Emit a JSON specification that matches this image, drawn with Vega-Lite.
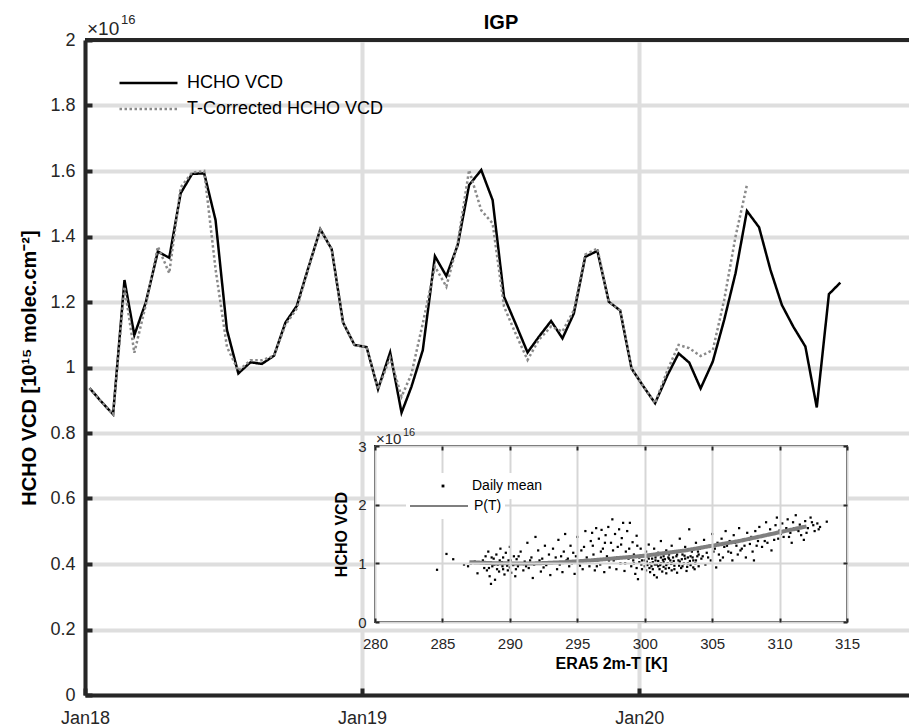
{
  "$schema": "https://vega.github.io/schema/vega-lite/v6.json",
  "width": 824,
  "height": 655,
  "autosize": {"type": "none"},
  "padding": {"left": 85, "top": 40, "right": 0, "bottom": 33},
  "background": "white",
  "config": {"font": "Liberation Sans", "view": {"stroke": null}},
  "title": {"text": "IGP", "fontSize": 20, "fontWeight": "bold", "anchor": "middle", "frame": "group", "offset": 7, "dx": 4, "dy": 26, "color": "#000000"},
  "datasets": {
    "main": [
      {"date": "2018-01-07", "HCHO VCD": 0.937, "T-Corrected HCHO VCD": 0.937},
      {"date": "2018-01-22", "HCHO VCD": 0.897, "T-Corrected HCHO VCD": 0.897},
      {"date": "2018-02-07", "HCHO VCD": 0.857, "T-Corrected HCHO VCD": 0.857},
      {"date": "2018-02-22", "HCHO VCD": 1.267, "T-Corrected HCHO VCD": 1.247},
      {"date": "2018-03-07", "HCHO VCD": 1.099, "T-Corrected HCHO VCD": 1.045},
      {"date": "2018-03-22", "HCHO VCD": 1.198, "T-Corrected HCHO VCD": 1.19},
      {"date": "2018-04-07", "HCHO VCD": 1.354, "T-Corrected HCHO VCD": 1.369},
      {"date": "2018-04-22", "HCHO VCD": 1.335, "T-Corrected HCHO VCD": 1.288},
      {"date": "2018-05-07", "HCHO VCD": 1.532, "T-Corrected HCHO VCD": 1.55},
      {"date": "2018-05-22", "HCHO VCD": 1.591, "T-Corrected HCHO VCD": 1.595},
      {"date": "2018-06-07", "HCHO VCD": 1.593, "T-Corrected HCHO VCD": 1.6},
      {"date": "2018-06-22", "HCHO VCD": 1.45, "T-Corrected HCHO VCD": 1.3},
      {"date": "2018-07-07", "HCHO VCD": 1.115, "T-Corrected HCHO VCD": 1.063},
      {"date": "2018-07-22", "HCHO VCD": 0.982, "T-Corrected HCHO VCD": 0.99},
      {"date": "2018-08-07", "HCHO VCD": 1.016, "T-Corrected HCHO VCD": 1.022},
      {"date": "2018-08-22", "HCHO VCD": 1.011, "T-Corrected HCHO VCD": 1.022},
      {"date": "2018-09-07", "HCHO VCD": 1.036, "T-Corrected HCHO VCD": 1.036},
      {"date": "2018-09-22", "HCHO VCD": 1.137, "T-Corrected HCHO VCD": 1.13},
      {"date": "2018-10-07", "HCHO VCD": 1.188, "T-Corrected HCHO VCD": 1.18},
      {"date": "2018-10-22", "HCHO VCD": 1.303, "T-Corrected HCHO VCD": 1.3},
      {"date": "2018-11-07", "HCHO VCD": 1.422, "T-Corrected HCHO VCD": 1.422},
      {"date": "2018-11-22", "HCHO VCD": 1.361, "T-Corrected HCHO VCD": 1.361},
      {"date": "2018-12-07", "HCHO VCD": 1.137, "T-Corrected HCHO VCD": 1.137},
      {"date": "2018-12-22", "HCHO VCD": 1.069, "T-Corrected HCHO VCD": 1.069},
      {"date": "2019-01-07", "HCHO VCD": 1.062, "T-Corrected HCHO VCD": 1.062},
      {"date": "2019-01-22", "HCHO VCD": 0.934, "T-Corrected HCHO VCD": 0.934},
      {"date": "2019-02-07", "HCHO VCD": 1.046, "T-Corrected HCHO VCD": 1.03},
      {"date": "2019-02-22", "HCHO VCD": 0.862, "T-Corrected HCHO VCD": 0.911},
      {"date": "2019-03-07", "HCHO VCD": 0.941, "T-Corrected HCHO VCD": 0.98},
      {"date": "2019-03-22", "HCHO VCD": 1.053, "T-Corrected HCHO VCD": 1.135},
      {"date": "2019-04-07", "HCHO VCD": 1.34, "T-Corrected HCHO VCD": 1.308},
      {"date": "2019-04-22", "HCHO VCD": 1.279, "T-Corrected HCHO VCD": 1.247},
      {"date": "2019-05-07", "HCHO VCD": 1.374, "T-Corrected HCHO VCD": 1.38},
      {"date": "2019-05-22", "HCHO VCD": 1.557, "T-Corrected HCHO VCD": 1.603},
      {"date": "2019-06-07", "HCHO VCD": 1.603, "T-Corrected HCHO VCD": 1.48},
      {"date": "2019-06-22", "HCHO VCD": 1.511, "T-Corrected HCHO VCD": 1.44},
      {"date": "2019-07-07", "HCHO VCD": 1.216, "T-Corrected HCHO VCD": 1.186},
      {"date": "2019-07-22", "HCHO VCD": 1.135, "T-Corrected HCHO VCD": 1.105},
      {"date": "2019-08-07", "HCHO VCD": 1.046, "T-Corrected HCHO VCD": 1.023},
      {"date": "2019-08-22", "HCHO VCD": 1.094, "T-Corrected HCHO VCD": 1.085},
      {"date": "2019-09-07", "HCHO VCD": 1.142, "T-Corrected HCHO VCD": 1.125},
      {"date": "2019-09-22", "HCHO VCD": 1.089, "T-Corrected HCHO VCD": 1.11},
      {"date": "2019-10-07", "HCHO VCD": 1.165, "T-Corrected HCHO VCD": 1.175},
      {"date": "2019-10-22", "HCHO VCD": 1.338, "T-Corrected HCHO VCD": 1.345},
      {"date": "2019-11-07", "HCHO VCD": 1.356, "T-Corrected HCHO VCD": 1.363},
      {"date": "2019-11-22", "HCHO VCD": 1.201, "T-Corrected HCHO VCD": 1.201},
      {"date": "2019-12-07", "HCHO VCD": 1.174, "T-Corrected HCHO VCD": 1.174},
      {"date": "2019-12-22", "HCHO VCD": 0.997, "T-Corrected HCHO VCD": 0.997},
      {"date": "2020-01-07", "HCHO VCD": 0.941, "T-Corrected HCHO VCD": 0.941},
      {"date": "2020-01-22", "HCHO VCD": 0.891, "T-Corrected HCHO VCD": 0.891},
      {"date": "2020-02-07", "HCHO VCD": 0.975, "T-Corrected HCHO VCD": 0.99},
      {"date": "2020-02-22", "HCHO VCD": 1.043, "T-Corrected HCHO VCD": 1.069},
      {"date": "2020-03-07", "HCHO VCD": 1.015, "T-Corrected HCHO VCD": 1.059},
      {"date": "2020-03-22", "HCHO VCD": 0.936, "T-Corrected HCHO VCD": 1.035},
      {"date": "2020-04-07", "HCHO VCD": 1.018, "T-Corrected HCHO VCD": 1.053},
      {"date": "2020-04-22", "HCHO VCD": 1.145, "T-Corrected HCHO VCD": 1.206},
      {"date": "2020-05-07", "HCHO VCD": 1.288, "T-Corrected HCHO VCD": 1.4},
      {"date": "2020-05-22", "HCHO VCD": 1.478, "T-Corrected HCHO VCD": 1.557},
      {"date": "2020-06-07", "HCHO VCD": 1.428},
      {"date": "2020-06-22", "HCHO VCD": 1.298},
      {"date": "2020-07-07", "HCHO VCD": 1.191},
      {"date": "2020-07-22", "HCHO VCD": 1.125},
      {"date": "2020-08-07", "HCHO VCD": 1.064},
      {"date": "2020-08-22", "HCHO VCD": 0.878},
      {"date": "2020-09-07", "HCHO VCD": 1.224},
      {"date": "2020-09-22", "HCHO VCD": 1.259}
    ],
    "fit": [
      {"t": 287, "v": 1.02}, {"t": 288, "v": 1.01}, {"t": 289, "v": 1.0}, {"t": 290, "v": 1.0},
      {"t": 291, "v": 0.995}, {"t": 292, "v": 1.0}, {"t": 293, "v": 1.01}, {"t": 294, "v": 1.02},
      {"t": 295, "v": 1.035}, {"t": 296, "v": 1.05}, {"t": 297, "v": 1.07}, {"t": 298, "v": 1.09},
      {"t": 299, "v": 1.11}, {"t": 300, "v": 1.13}, {"t": 301, "v": 1.16}, {"t": 302, "v": 1.19},
      {"t": 303, "v": 1.22}, {"t": 304, "v": 1.26}, {"t": 305, "v": 1.3}, {"t": 306, "v": 1.34},
      {"t": 307, "v": 1.38}, {"t": 308, "v": 1.43}, {"t": 309, "v": 1.48}, {"t": 310, "v": 1.53},
      {"t": 311, "v": 1.58}, {"t": 312, "v": 1.63}
    ],
    "pts": [
      {"t": 284.6, "v": 0.89}, {"t": 285.3, "v": 1.16}, {"t": 285.8, "v": 1.07}, {"t": 286.6, "v": 0.98},
      {"t": 287.1, "v": 1.0}, {"t": 287.4, "v": 1.03}, {"t": 287.6, "v": 0.83}, {"t": 286.9, "v": 0.95},
      {"t": 288.0, "v": 1.05}, {"t": 288.1, "v": 0.92}, {"t": 288.2, "v": 1.12}, {"t": 288.3, "v": 0.88},
      {"t": 288.4, "v": 1.2}, {"t": 288.5, "v": 0.78}, {"t": 288.6, "v": 0.65}, {"t": 288.6, "v": 1.0},
      {"t": 288.7, "v": 0.95}, {"t": 288.8, "v": 1.08}, {"t": 288.9, "v": 0.72}, {"t": 289.0, "v": 1.15},
      {"t": 289.1, "v": 0.98}, {"t": 289.2, "v": 0.86}, {"t": 289.3, "v": 1.25}, {"t": 289.4, "v": 1.02},
      {"t": 289.5, "v": 0.9}, {"t": 289.5, "v": 1.1}, {"t": 289.6, "v": 0.81}, {"t": 289.7, "v": 1.18},
      {"t": 289.8, "v": 0.96}, {"t": 289.9, "v": 1.05}, {"t": 290.0, "v": 0.93}, {"t": 290.0, "v": 1.28},
      {"t": 290.1, "v": 0.84}, {"t": 290.2, "v": 1.0}, {"t": 290.3, "v": 1.12}, {"t": 290.4, "v": 0.78},
      {"t": 290.5, "v": 1.07}, {"t": 290.6, "v": 0.95},
      {"t": 290.8, "v": 1.2}, {"t": 291.0, "v": 0.88}, {"t": 291.1, "v": 1.03}, {"t": 291.3, "v": 1.35},
      {"t": 291.4, "v": 0.92}, {"t": 291.6, "v": 1.1}, {"t": 291.7, "v": 0.75}, {"t": 291.9, "v": 1.45},
      {"t": 292.0, "v": 1.0}, {"t": 292.1, "v": 1.22}, {"t": 292.3, "v": 0.86}, {"t": 292.4, "v": 1.08},
      {"t": 292.6, "v": 1.3}, {"t": 292.7, "v": 0.97}, {"t": 292.9, "v": 1.15}, {"t": 293.0, "v": 0.8},
      {"t": 293.2, "v": 1.25}, {"t": 293.3, "v": 1.02}, {"t": 293.5, "v": 0.9}, {"t": 293.6, "v": 1.4},
      {"t": 293.8, "v": 1.12}, {"t": 293.9, "v": 0.85}, {"t": 294.1, "v": 1.5}, {"t": 294.2, "v": 1.05},
      {"t": 294.4, "v": 0.95}, {"t": 294.5, "v": 1.3}, {"t": 294.7, "v": 1.18}, {"t": 294.8, "v": 0.82},
      {"t": 295.0, "v": 1.45}, {"t": 295.1, "v": 1.0}, {"t": 295.3, "v": 1.22}, {"t": 295.4, "v": 0.9},
      {"t": 295.6, "v": 1.55}, {"t": 295.7, "v": 1.1}, {"t": 295.9, "v": 0.95}, {"t": 296.0, "v": 1.38},
      {"t": 296.1, "v": 1.52}, {"t": 296.2, "v": 1.15}, {"t": 296.3, "v": 0.88}, {"t": 296.4, "v": 1.6},
      {"t": 296.5, "v": 1.05}, {"t": 296.6, "v": 1.42}, {"t": 296.7, "v": 0.98}, {"t": 296.8, "v": 1.57},
      {"t": 296.9, "v": 1.25}, {"t": 297.0, "v": 0.85}, {"t": 297.1, "v": 1.48}, {"t": 297.2, "v": 1.12},
      {"t": 297.3, "v": 1.62}, {"t": 297.4, "v": 0.93}, {"t": 297.5, "v": 1.35}, {"t": 297.6, "v": 1.75},
      {"t": 297.7, "v": 1.05}, {"t": 297.8, "v": 1.5}, {"t": 297.9, "v": 0.9}, {"t": 298.0, "v": 1.28},
      {"t": 298.1, "v": 1.58}, {"t": 298.2, "v": 1.0}, {"t": 298.3, "v": 1.43}, {"t": 298.4, "v": 1.69},
      {"t": 298.5, "v": 0.87}, {"t": 298.6, "v": 1.2}, {"t": 298.7, "v": 1.55}, {"t": 298.8, "v": 1.08},
      {"t": 298.9, "v": 1.69}, {"t": 299.0, "v": 0.95}, {"t": 299.1, "v": 1.36}, {"t": 299.2, "v": 1.15},
      {"t": 299.3, "v": 0.82}, {"t": 299.4, "v": 1.47}, {"t": 299.5, "v": 0.73}, {"t": 299.6, "v": 1.02},
      {"t": 299.7, "v": 1.25}, {"t": 299.8, "v": 0.9}, {"t": 299.9, "v": 1.12},
      {"t": 300.0, "v": 1.05}, {"t": 300.1, "v": 0.88}, {"t": 300.1, "v": 1.2}, {"t": 300.2, "v": 0.97},
      {"t": 300.3, "v": 1.32}, {"t": 300.3, "v": 1.08}, {"t": 300.4, "v": 0.85}, {"t": 300.5, "v": 1.15},
      {"t": 300.5, "v": 0.95}, {"t": 300.6, "v": 1.02}, {"t": 300.7, "v": 1.25}, {"t": 300.7, "v": 0.8},
      {"t": 300.8, "v": 1.1}, {"t": 300.9, "v": 0.76}, {"t": 300.9, "v": 0.98}, {"t": 301.0, "v": 1.18},
      {"t": 301.0, "v": 1.04}, {"t": 301.1, "v": 0.9}, {"t": 301.2, "v": 1.38}, {"t": 301.2, "v": 1.0},
      {"t": 301.3, "v": 0.86}, {"t": 301.4, "v": 1.12}, {"t": 301.4, "v": 0.94}, {"t": 301.5, "v": 1.07},
      {"t": 301.6, "v": 1.22}, {"t": 301.6, "v": 0.83}, {"t": 301.7, "v": 1.0}, {"t": 301.8, "v": 1.15},
      {"t": 301.8, "v": 0.92}, {"t": 301.9, "v": 1.05}, {"t": 302.0, "v": 1.3}, {"t": 302.0, "v": 0.88},
      {"t": 302.1, "v": 1.1}, {"t": 302.2, "v": 0.96}, {"t": 302.3, "v": 1.2}, {"t": 302.4, "v": 0.84},
      {"t": 302.5, "v": 1.05}, {"t": 302.6, "v": 1.42}, {"t": 302.7, "v": 0.92}, {"t": 302.8, "v": 1.15},
      {"t": 302.9, "v": 1.0}, {"t": 303.0, "v": 1.28}, {"t": 303.1, "v": 0.87}, {"t": 303.2, "v": 1.1},
      {"t": 303.3, "v": 1.58}, {"t": 303.4, "v": 0.97}, {"t": 303.5, "v": 1.2}, {"t": 303.6, "v": 1.05},
      {"t": 303.7, "v": 0.9}, {"t": 303.8, "v": 1.35}, {"t": 303.9, "v": 1.12}, {"t": 304.0, "v": 0.95},
      {"t": 304.1, "v": 1.25}, {"t": 304.2, "v": 1.08}, {"t": 304.4, "v": 1.4}, {"t": 304.5, "v": 0.98},
      {"t": 304.6, "v": 1.18}, {"t": 304.8, "v": 1.3}, {"t": 304.9, "v": 1.05}, {"t": 305.0, "v": 1.5},
      {"t": 305.1, "v": 1.2}, {"t": 305.3, "v": 0.93}, {"t": 305.4, "v": 1.35}, {"t": 305.5, "v": 1.15},
      {"t": 305.7, "v": 1.42}, {"t": 305.8, "v": 1.1}, {"t": 305.9, "v": 1.28}, {"t": 306.0, "v": 1.55},
      {"t": 306.2, "v": 1.2}, {"t": 306.3, "v": 1.38}, {"t": 306.5, "v": 1.05}, {"t": 306.6, "v": 1.48},
      {"t": 306.8, "v": 1.3}, {"t": 306.9, "v": 1.15}, {"t": 307.0, "v": 1.6}, {"t": 307.2, "v": 1.25},
      {"t": 307.3, "v": 1.4}, {"t": 307.5, "v": 1.1}, {"t": 307.6, "v": 1.52}, {"t": 307.8, "v": 1.33},
      {"t": 307.9, "v": 1.45}, {"t": 308.0, "v": 1.2},
      {"t": 308.1, "v": 1.05}, {"t": 308.2, "v": 1.55}, {"t": 308.4, "v": 1.38}, {"t": 308.5, "v": 1.62},
      {"t": 308.7, "v": 1.28}, {"t": 308.8, "v": 1.47}, {"t": 309.0, "v": 1.7}, {"t": 309.1, "v": 1.35},
      {"t": 309.3, "v": 1.58}, {"t": 309.4, "v": 1.22}, {"t": 309.5, "v": 1.5}, {"t": 309.7, "v": 1.65},
      {"t": 309.8, "v": 1.78}, {"t": 309.9, "v": 1.42}, {"t": 310.0, "v": 1.56},
      {"t": 310.2, "v": 1.68}, {"t": 310.3, "v": 1.45}, {"t": 310.5, "v": 1.6}, {"t": 310.6, "v": 1.75},
      {"t": 310.8, "v": 1.52}, {"t": 310.9, "v": 1.35}, {"t": 311.0, "v": 1.7}, {"t": 311.2, "v": 1.82},
      {"t": 311.3, "v": 1.58}, {"t": 311.5, "v": 1.66}, {"t": 311.6, "v": 1.48}, {"t": 311.8, "v": 1.4},
      {"t": 311.9, "v": 1.72},
      {"t": 312.1, "v": 1.6}, {"t": 312.3, "v": 1.78}, {"t": 312.5, "v": 1.65}, {"t": 312.6, "v": 1.55},
      {"t": 312.8, "v": 1.68}, {"t": 313.0, "v": 1.62}, {"t": 313.5, "v": 1.71},
      {"t": 299.2, "v": 1.0}, {"t": 299.4, "v": 0.92}, {"t": 299.6, "v": 1.1}, {"t": 299.8, "v": 1.05},
      {"t": 300.0, "v": 0.95}, {"t": 300.2, "v": 1.12}, {"t": 300.4, "v": 1.0}, {"t": 300.6, "v": 0.9},
      {"t": 300.8, "v": 1.05}, {"t": 301.0, "v": 0.95}, {"t": 301.2, "v": 1.1}, {"t": 301.4, "v": 1.02},
      {"t": 301.6, "v": 0.97}, {"t": 301.8, "v": 1.08}, {"t": 302.0, "v": 1.0}, {"t": 302.2, "v": 0.9},
      {"t": 302.4, "v": 1.15}, {"t": 302.6, "v": 1.03}, {"t": 302.8, "v": 0.95}, {"t": 303.0, "v": 1.08},
      {"t": 303.2, "v": 1.0}, {"t": 303.4, "v": 1.12}, {"t": 303.6, "v": 0.93}, {"t": 303.8, "v": 1.05},
      {"t": 304.0, "v": 1.15}, {"t": 300.15, "v": 1.03}, {"t": 300.35, "v": 0.92}, {"t": 300.55, "v": 1.08},
      {"t": 300.75, "v": 0.98}, {"t": 300.95, "v": 1.14}, {"t": 301.15, "v": 0.97}, {"t": 301.35, "v": 1.06},
      {"t": 301.55, "v": 0.91}, {"t": 301.75, "v": 1.1}, {"t": 301.95, "v": 0.99}, {"t": 302.15, "v": 1.04},
      {"t": 302.35, "v": 1.12}, {"t": 302.55, "v": 0.96}, {"t": 302.75, "v": 1.07}, {"t": 302.95, "v": 1.13},
      {"t": 303.15, "v": 0.94}, {"t": 303.35, "v": 1.04}, {"t": 303.55, "v": 1.1}, {"t": 303.75, "v": 1.0},
      {"t": 303.95, "v": 1.2}, {"t": 304.3, "v": 1.12}, {"t": 304.7, "v": 1.1}, {"t": 305.2, "v": 1.25},
      {"t": 305.6, "v": 1.05}, {"t": 306.1, "v": 1.3}, {"t": 306.4, "v": 1.18}, {"t": 306.7, "v": 1.35},
      {"t": 307.1, "v": 1.22}, {"t": 307.4, "v": 1.3}, {"t": 307.7, "v": 1.4}, {"t": 308.3, "v": 1.3},
      {"t": 308.6, "v": 1.45}, {"t": 308.9, "v": 1.38}, {"t": 309.2, "v": 1.5}, {"t": 309.6, "v": 1.4},
      {"t": 310.1, "v": 1.5}, {"t": 310.4, "v": 1.55}, {"t": 310.7, "v": 1.45}, {"t": 311.1, "v": 1.6},
      {"t": 311.4, "v": 1.55}, {"t": 311.7, "v": 1.62}, {"t": 312.0, "v": 1.52}, {"t": 312.4, "v": 1.7},
      {"t": 312.9, "v": 1.58},
      {"t": 288.25, "v": 1.0}, {"t": 288.45, "v": 0.92}, {"t": 288.65, "v": 1.1}, {"t": 288.85, "v": 0.98},
      {"t": 289.05, "v": 0.9}, {"t": 289.25, "v": 1.05}, {"t": 289.45, "v": 0.95}, {"t": 289.65, "v": 1.0},
      {"t": 289.85, "v": 0.88}, {"t": 290.05, "v": 1.05}, {"t": 290.25, "v": 0.97}, {"t": 290.45, "v": 0.9},
      {"t": 290.65, "v": 1.12}, {"t": 290.9, "v": 1.0}, {"t": 291.2, "v": 0.95}, {"t": 291.5, "v": 1.05},
      {"t": 291.8, "v": 0.98}, {"t": 292.2, "v": 1.05}, {"t": 292.5, "v": 0.93}, {"t": 292.8, "v": 1.02},
      {"t": 293.4, "v": 1.1}, {"t": 293.7, "v": 0.98}, {"t": 294.0, "v": 1.2}, {"t": 294.3, "v": 1.08},
      {"t": 294.6, "v": 1.0}, {"t": 294.9, "v": 1.12}, {"t": 295.2, "v": 0.96}, {"t": 295.5, "v": 1.28},
      {"t": 295.8, "v": 1.05}, {"t": 296.15, "v": 1.3}, {"t": 296.45, "v": 0.95}, {"t": 296.75, "v": 1.2},
      {"t": 297.05, "v": 1.35}, {"t": 297.35, "v": 1.05}, {"t": 297.65, "v": 1.22}, {"t": 297.95, "v": 1.1},
      {"t": 298.25, "v": 1.32}, {"t": 298.55, "v": 1.0}, {"t": 298.85, "v": 1.25}, {"t": 299.15, "v": 1.05},
      {"t": 299.45, "v": 1.3}, {"t": 299.75, "v": 0.98}
    ]
  },
  "layer": [
    {
      "layer": [
        {
          "data": {"name": "main"},
          "transform": [{"fold": ["HCHO VCD", "T-Corrected HCHO VCD"], "as": ["series", "vcd"]}],
          "mark": {"type": "line", "strokeWidth": 2.5},
          "encoding": {
            "x": {
              "field": "date", "type": "temporal",
              "scale": {"type": "utc", "domain": [{"year": 2018, "month": 1, "date": 1, "utc": true}, {"year": 2020, "month": 12, "date": 21, "hours": 12, "utc": true}]},
              "axis": {
                "title": null,
                "values": [{"year": 2018, "month": 1, "date": 1, "utc": true}, {"year": 2019, "month": 1, "date": 1, "utc": true}, {"year": 2020, "month": 1, "date": 1, "utc": true}],
                "labelExpr": "utcFormat(datum.value, '%b%y')",
                "labelFontSize": 18, "labelColor": "#262626", "labelPadding": 21, "labelFlush": false,
                "grid": true, "gridColor": "#dedede", "gridWidth": 4,
                "domainColor": "#262626", "domainWidth": 4,
                "tickColor": "#262626", "tickWidth": 4, "tickSize": -7
              }
            },
            "y": {
              "field": "vcd", "type": "quantitative",
              "scale": {"domain": [0, 2]},
              "axis": {
                "title": "HCHO VCD [10¹⁵ molec.cm⁻²]", "titleFontSize": 20, "titleFontWeight": "bold", "titleColor": "#000000", "titlePadding": 10,
                "values": [0, 0.2, 0.4, 0.6, 0.8, 1, 1.2, 1.4, 1.6, 1.8, 2],
                "format": ".1~f",
                "labelFontSize": 18, "labelColor": "#262626", "labelPadding": 17,
                "grid": true, "gridColor": "#dedede", "gridWidth": 4,
                "domainColor": "#262626", "domainWidth": 4,
                "tickColor": "#262626", "tickWidth": 4, "tickSize": -7
              }
            },
            "color": {
              "field": "series", "type": "nominal",
              "scale": {"domain": ["HCHO VCD", "T-Corrected HCHO VCD"], "range": ["#000000", "#8a8a8a"]},
              "legend": {"orient": "none", "legendX": 33, "legendY": 30, "title": null, "symbolType": "stroke", "symbolSize": 3364, "symbolStrokeWidth": 2.5, "labelFontSize": 18, "labelColor": "#000000", "labelOffset": 8, "labelLimit": 400, "clipHeight": 26, "padding": 0, "rowPadding": 0}
            },
            "strokeDash": {
              "field": "series", "type": "nominal",
              "scale": {"domain": ["HCHO VCD", "T-Corrected HCHO VCD"], "range": [[1, 0], [2.5, 2.5]]},
              "legend": {"orient": "none", "legendX": 33, "legendY": 30, "title": null, "symbolType": "stroke", "symbolSize": 3364, "symbolStrokeWidth": 2.5, "labelFontSize": 18, "labelColor": "#000000", "labelOffset": 8, "labelLimit": 400, "clipHeight": 26, "padding": 0, "rowPadding": 0}
            }
          }
        },
        {
          "data": {"values": [{}]},
          "mark": {"type": "rule", "color": "#262626", "strokeWidth": 4},
          "encoding": {"y": {"datum": 2, "type": "quantitative"}}
        },
        {
          "data": {"values": [{}]},
          "mark": {"type": "text", "align": "left", "baseline": "alphabetic", "fontSize": 19, "dx": 2, "dy": -5, "color": "#262626"},
          "encoding": {
            "x": {"datum": {"year": 2018, "month": 1, "date": 1, "utc": true}, "type": "temporal"},
            "y": {"datum": 2, "type": "quantitative"},
            "text": {"value": "×10"}
          }
        },
        {
          "data": {"values": [{}]},
          "mark": {"type": "text", "align": "left", "baseline": "alphabetic", "fontSize": 13, "dx": 36, "dy": -16, "color": "#262626"},
          "encoding": {
            "x": {"datum": {"year": 2018, "month": 1, "date": 1, "utc": true}, "type": "temporal"},
            "y": {"datum": 2, "type": "quantitative"},
            "text": {"value": "16"}
          }
        }
      ]
    },
    {
      "data": {"values": [{}]},
      "mark": {"type": "rect", "fill": "white", "stroke": "#262626", "strokeWidth": 2},
      "encoding": {
        "x": {
          "datum": 280, "type": "quantitative",
          "scale": {"domain": [280, 315], "range": [290, 762], "nice": false, "zero": false},
          "axis": {
            "orient": "top", "offset": -406, "values": [280, 285, 290, 295, 300, 305, 310, 315],
            "title": null, "labels": false, "domain": false,
            "grid": true, "gridColor": "#d6d6d6", "gridWidth": 2,
            "tickColor": "#262626", "tickWidth": 2, "tickSize": -4, "zindex": 1
          }
        },
        "x2": {"datum": 315},
        "y": {
          "datum": 0, "type": "quantitative",
          "scale": {"domain": [0, 3], "range": [582, 406], "nice": false, "zero": false},
          "axis": {
            "orient": "right", "offset": -62, "values": [0, 1, 2, 3],
            "title": null, "labels": false, "domain": false, "grid": false,
            "tickColor": "#262626", "tickWidth": 2, "tickSize": -4, "zindex": 1
          }
        },
        "y2": {"datum": 3}
      }
    },
    {
      "layer": [
        {
          "data": {"name": "pts"},
          "mark": {"type": "point", "shape": "square", "filled": true, "size": 5, "opacity": 1, "color": "#000000"},
          "encoding": {
            "x": {
              "field": "t", "type": "quantitative",
              "scale": {"domain": [280, 315], "range": [290, 762], "nice": false, "zero": false},
              "axis": {
                "orient": "bottom", "offset": -73, "values": [280, 285, 290, 295, 300, 305, 310, 315],
                "title": "ERA5 2m-T [K]", "titleFontSize": 16, "titleFontWeight": "bold", "titleColor": "#000000", "titlePadding": 4,
                "labelFontSize": 15, "labelColor": "#262626", "labelPadding": 18, "labelFlush": false,
                "grid": false, "domain": false,
                "tickColor": "#262626", "tickWidth": 2, "tickSize": -4, "zindex": 1
              }
            },
            "y": {
              "field": "v", "type": "quantitative",
              "scale": {"domain": [0, 3], "range": [582, 406], "nice": false, "zero": false},
              "axis": {
                "orient": "left", "offset": -290, "values": [0, 1, 2, 3], "format": "d",
                "title": "HCHO VCD", "titleFontSize": 16, "titleFontWeight": "bold", "titleColor": "#000000", "titlePadding": 8,
                "labelFontSize": 15, "labelColor": "#262626", "labelPadding": 13,
                "grid": true, "gridColor": "#d6d6d6", "gridWidth": 2, "domain": false,
                "tickColor": "#262626", "tickWidth": 2, "tickSize": -4, "zindex": 1
              }
            },
            "shape": {
              "datum": "Daily mean",
              "scale": {"domain": ["Daily mean"], "range": ["square"]},
              "legend": {"orient": "none", "legendX": 348, "legendY": 433, "title": null, "symbolSize": 8, "symbolFillColor": "#000000", "symbolStrokeColor": "#000000", "symbolStrokeWidth": 0, "labelFontSize": 14, "labelColor": "#000000", "labelOffset": 22, "clipHeight": 20, "padding": 3, "fillColor": "#ffffff", "zindex": 2}
            }
          }
        },
        {
          "data": {"name": "fit"},
          "mark": {"type": "line", "strokeWidth": 4, "color": "#7f7f7f"},
          "encoding": {
            "x": {"field": "t", "type": "quantitative"},
            "y": {"field": "v", "type": "quantitative"},
            "strokeDash": {
              "datum": "P(T)",
              "scale": {"domain": ["P(T)"], "range": [[1, 0]]},
              "legend": {"orient": "none", "legendX": 321, "legendY": 453, "title": null, "symbolType": "stroke", "symbolSize": 3364, "symbolStrokeWidth": 2, "symbolStrokeColor": "#7f7f7f", "labelFontSize": 14, "labelColor": "#000000", "labelOffset": 5, "clipHeight": 20, "padding": 3, "fillColor": "#ffffff", "zindex": 2}
            }
          }
        },
        {
          "data": {"values": [{}]},
          "mark": {"type": "text", "align": "left", "baseline": "alphabetic", "fontSize": 15, "dx": 1, "dy": -2, "color": "#262626"},
          "encoding": {
            "x": {"datum": 280, "type": "quantitative"},
            "y": {"datum": 3, "type": "quantitative"},
            "text": {"value": "×10"}
          }
        },
        {
          "data": {"values": [{}]},
          "mark": {"type": "text", "align": "left", "baseline": "alphabetic", "fontSize": 11, "dx": 28, "dy": -10, "color": "#262626"},
          "encoding": {
            "x": {"datum": 280, "type": "quantitative"},
            "y": {"datum": 3, "type": "quantitative"},
            "text": {"value": "16"}
          }
        }
      ]
    }
  ],
  "resolve": {
    "scale": {"x": "independent", "y": "independent", "color": "independent", "strokeDash": "independent", "shape": "independent"},
    "axis": {"x": "independent", "y": "independent"},
    "legend": {"color": "independent", "strokeDash": "independent", "shape": "independent"}
  }
}
